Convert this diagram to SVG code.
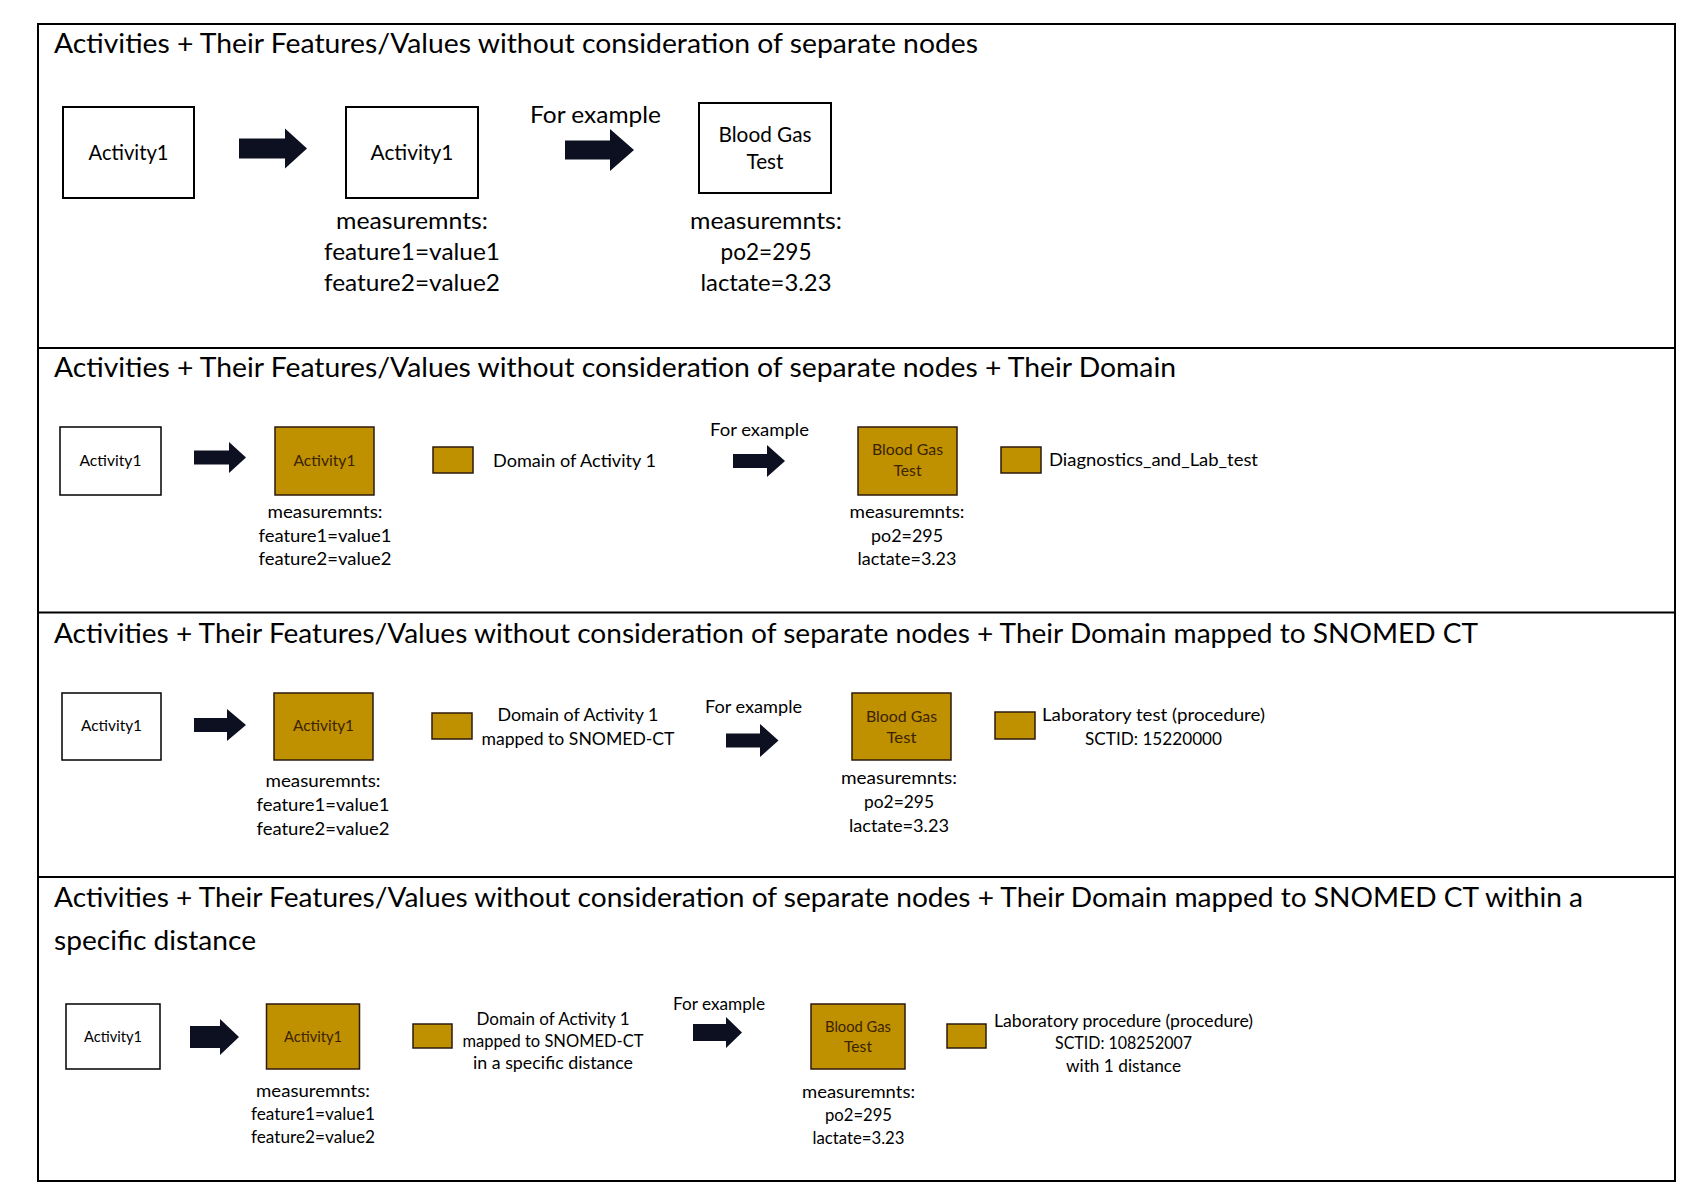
<svg xmlns="http://www.w3.org/2000/svg" width="1700" height="1200" viewBox="0 0 1700 1200">
<style>
text{font-family:Lato,"Open Sans","Liberation Sans",sans-serif;fill:#000}
.t{font-size:26px}
.m1{font-size:24px;text-anchor:middle}
.n1{font-size:21px;text-anchor:middle}
.s{font-size:17px}
.sm{font-size:17px;text-anchor:middle}
.n{font-size:16px;text-anchor:middle}
.ng{font-size:16px;text-anchor:middle;fill:#3a2400}
.wb{fill:#fff;stroke:#000;stroke-width:2}
.wbs{fill:#fff;stroke:#000;stroke-width:1.5}
.gb{fill:#BF9000;stroke:#2e1a0c;stroke-width:1.5}
.frame{fill:none;stroke:#000;stroke-width:2}
.arr{fill:#0c1020;stroke:none}
</style>
<rect class="frame" x="38" y="24" width="1637" height="1157"/>
<g id="dividers">
<line x1="38" y1="348" x2="1675" y2="348" stroke="#000" stroke-width="2"/>
<line x1="38" y1="612.5" x2="1675" y2="612.5" stroke="#000" stroke-width="2"/>
<line x1="38" y1="877" x2="1675" y2="877" stroke="#000" stroke-width="2"/>
</g>
<g id="titles">
<text class="t" x="54" y="53" textLength="924" lengthAdjust="spacingAndGlyphs">Activities + Their Features/Values without consideration of separate nodes</text>
<text class="t" x="54" y="377" textLength="1122" lengthAdjust="spacingAndGlyphs">Activities + Their Features/Values without consideration of separate nodes + Their Domain</text>
<text class="t" x="54" y="643" textLength="1424" lengthAdjust="spacingAndGlyphs">Activities + Their Features/Values without consideration of separate nodes + Their Domain mapped to SNOMED CT</text>
<text class="t" x="54" y="907" textLength="1529" lengthAdjust="spacingAndGlyphs">Activities + Their Features/Values without consideration of separate nodes + Their Domain mapped to SNOMED CT within a</text>
<text class="t" x="54" y="950" textLength="202" lengthAdjust="spacingAndGlyphs">specific distance</text>
</g>
<g id="connectors">
<path class="arr" d="M239,138.5 H285 V128.5 L307,148.5 L285,168.5 V158.5 H239 Z"/>
<path class="arr" d="M565,140.5 H610 V129 L634,150 L610,171 V159.5 H565 Z"/>
<path class="arr" d="M194,450.5 H229 V442 L246,457.5 L229,473 V464.5 H194 Z"/>
<path class="arr" d="M733,454 H767 V445 L785,461 L767,477 V468 H733 Z"/>
<path class="arr" d="M194,718 H227 V709 L246,725 L227,741 V732 H194 Z"/>
<path class="arr" d="M726,733.5 H760 V724 L778.5,740.5 L760,757 V747.5 H726 Z"/>
<path class="arr" d="M190,1026 H220 V1019 L239,1037 L220,1055 V1048 H190 Z"/>
<path class="arr" d="M693,1024 H726 V1017 L742,1032.5 L726,1048 V1041 H693 Z"/>
</g>
<g id="s1-activity">
<rect class="wb" x="63" y="107" width="131" height="91"/>
<text class="n1" x="128.5" y="160" textLength="80" lengthAdjust="spacingAndGlyphs">Activity1</text>
</g>
<g id="s1-activity-features">
<rect class="wb" x="346" y="107" width="132" height="91"/>
<text class="n1" x="412" y="160" textLength="83" lengthAdjust="spacingAndGlyphs">Activity1</text>
<text class="m1" x="412" y="229" textLength="152" lengthAdjust="spacingAndGlyphs">measuremnts:</text>
<text class="m1" x="412" y="260" textLength="176" lengthAdjust="spacingAndGlyphs">feature1=value1</text>
<text class="m1" x="412" y="291" textLength="176" lengthAdjust="spacingAndGlyphs">feature2=value2</text>
</g>
<text class="m1" x="595.5" y="123" textLength="131" lengthAdjust="spacingAndGlyphs">For example</text>
<g id="s1-bloodgas">
<rect class="wb" x="699" y="103" width="132" height="90"/>
<text class="n1" x="765" y="142" textLength="93" lengthAdjust="spacingAndGlyphs">Blood Gas</text>
<text class="n1" x="765" y="169" textLength="37" lengthAdjust="spacingAndGlyphs">Test</text>
<text class="m1" x="766" y="229" textLength="152" lengthAdjust="spacingAndGlyphs">measuremnts:</text>
<text class="m1" x="766" y="260" textLength="91" lengthAdjust="spacingAndGlyphs">po2=295</text>
<text class="m1" x="766" y="291" textLength="131" lengthAdjust="spacingAndGlyphs">lactate=3.23</text>
</g>
<g id="s2-activity">
<rect class="wbs" x="60" y="427" width="101" height="68"/>
<text class="n" x="110.5" y="466" textLength="62" lengthAdjust="spacingAndGlyphs">Activity1</text>
</g>
<g id="s2-activity-domain">
<rect class="gb" x="275" y="427" width="99" height="68"/>
<text class="ng" x="324.5" y="466" textLength="62" lengthAdjust="spacingAndGlyphs">Activity1</text>
<text class="sm" x="325" y="518" textLength="115" lengthAdjust="spacingAndGlyphs">measuremnts:</text>
<text class="sm" x="325" y="542" textLength="133" lengthAdjust="spacingAndGlyphs">feature1=value1</text>
<text class="sm" x="325" y="565" textLength="133" lengthAdjust="spacingAndGlyphs">feature2=value2</text>
</g>
<g id="s2-legend1">
<rect class="gb" x="433" y="447" width="40" height="26"/>
<text class="s" x="493" y="467" textLength="163" lengthAdjust="spacingAndGlyphs">Domain of Activity 1</text>
</g>
<text class="sm" x="759.5" y="436" textLength="99" lengthAdjust="spacingAndGlyphs">For example</text>
<g id="s2-bloodgas">
<rect class="gb" x="858" y="427" width="99" height="68"/>
<text class="ng" x="907.5" y="455" textLength="71" lengthAdjust="spacingAndGlyphs">Blood Gas</text>
<text class="ng" x="907.5" y="476" textLength="28" lengthAdjust="spacingAndGlyphs">Test</text>
<text class="sm" x="907" y="518" textLength="115" lengthAdjust="spacingAndGlyphs">measuremnts:</text>
<text class="sm" x="907" y="542" textLength="72" lengthAdjust="spacingAndGlyphs">po2=295</text>
<text class="sm" x="907" y="565" textLength="99" lengthAdjust="spacingAndGlyphs">lactate=3.23</text>
</g>
<g id="s2-legend2">
<rect class="gb" x="1001" y="447" width="40" height="26"/>
<text class="s" x="1049" y="466" textLength="209" lengthAdjust="spacingAndGlyphs">Diagnostics_and_Lab_test</text>
</g>
<g id="s3-activity">
<rect class="wbs" x="62" y="693" width="99" height="67"/>
<text class="n" x="111.5" y="731" textLength="61" lengthAdjust="spacingAndGlyphs">Activity1</text>
</g>
<g id="s3-activity-domain">
<rect class="gb" x="274" y="693" width="99" height="67"/>
<text class="ng" x="323.5" y="731" textLength="61" lengthAdjust="spacingAndGlyphs">Activity1</text>
<text class="sm" x="323" y="787" textLength="115" lengthAdjust="spacingAndGlyphs">measuremnts:</text>
<text class="sm" x="323" y="811" textLength="133" lengthAdjust="spacingAndGlyphs">feature1=value1</text>
<text class="sm" x="323" y="835" textLength="133" lengthAdjust="spacingAndGlyphs">feature2=value2</text>
</g>
<g id="s3-legend1">
<rect class="gb" x="432" y="713" width="40" height="26"/>
<text class="sm" x="578" y="721" textLength="161" lengthAdjust="spacingAndGlyphs">Domain of Activity 1</text>
<text class="sm" x="578" y="745" textLength="193" lengthAdjust="spacingAndGlyphs">mapped to SNOMED-CT</text>
</g>
<text class="sm" x="753.5" y="713" textLength="97" lengthAdjust="spacingAndGlyphs">For example</text>
<g id="s3-bloodgas">
<rect class="gb" x="852" y="693" width="99" height="67"/>
<text class="ng" x="901.5" y="722" textLength="71" lengthAdjust="spacingAndGlyphs">Blood Gas</text>
<text class="ng" x="901.5" y="743" textLength="30" lengthAdjust="spacingAndGlyphs">Test</text>
<text class="sm" x="899" y="784" textLength="116" lengthAdjust="spacingAndGlyphs">measuremnts:</text>
<text class="sm" x="899" y="808" textLength="70" lengthAdjust="spacingAndGlyphs">po2=295</text>
<text class="sm" x="899" y="832" textLength="100" lengthAdjust="spacingAndGlyphs">lactate=3.23</text>
</g>
<g id="s3-legend2">
<rect class="gb" x="995" y="712" width="40" height="27"/>
<text class="sm" x="1153.5" y="721" textLength="223" lengthAdjust="spacingAndGlyphs">Laboratory test (procedure)</text>
<text class="sm" x="1153.5" y="745" textLength="137" lengthAdjust="spacingAndGlyphs">SCTID: 15220000</text>
</g>
<g id="s4-activity">
<rect class="wbs" x="66" y="1004" width="94" height="65"/>
<text class="n" x="113" y="1042" textLength="58" lengthAdjust="spacingAndGlyphs">Activity1</text>
</g>
<g id="s4-activity-domain">
<rect class="gb" x="266.5" y="1004" width="93" height="65"/>
<text class="ng" x="313" y="1042" textLength="58" lengthAdjust="spacingAndGlyphs">Activity1</text>
<text class="sm" x="313" y="1097" textLength="114" lengthAdjust="spacingAndGlyphs">measuremnts:</text>
<text class="sm" x="313" y="1120" textLength="124" lengthAdjust="spacingAndGlyphs">feature1=value1</text>
<text class="sm" x="313" y="1143" textLength="124" lengthAdjust="spacingAndGlyphs">feature2=value2</text>
</g>
<g id="s4-legend1">
<rect class="gb" x="413" y="1024" width="39" height="24"/>
<text class="sm" x="553" y="1025" textLength="153" lengthAdjust="spacingAndGlyphs">Domain of Activity 1</text>
<text class="sm" x="553" y="1047" textLength="181" lengthAdjust="spacingAndGlyphs">mapped to SNOMED-CT</text>
<text class="sm" x="553" y="1069" textLength="160" lengthAdjust="spacingAndGlyphs">in a specific distance</text>
</g>
<text class="sm" x="719" y="1010" textLength="92" lengthAdjust="spacingAndGlyphs">For example</text>
<g id="s4-bloodgas">
<rect class="gb" x="811" y="1004" width="94" height="65"/>
<text class="ng" x="858" y="1032" textLength="66" lengthAdjust="spacingAndGlyphs">Blood Gas</text>
<text class="ng" x="858" y="1052" textLength="28" lengthAdjust="spacingAndGlyphs">Test</text>
<text class="sm" x="858.5" y="1098" textLength="113" lengthAdjust="spacingAndGlyphs">measuremnts:</text>
<text class="sm" x="858.5" y="1121" textLength="67" lengthAdjust="spacingAndGlyphs">po2=295</text>
<text class="sm" x="858.5" y="1144" textLength="92" lengthAdjust="spacingAndGlyphs">lactate=3.23</text>
</g>
<g id="s4-legend2">
<rect class="gb" x="947" y="1024" width="39" height="24"/>
<text class="sm" x="1123.5" y="1027" textLength="259" lengthAdjust="spacingAndGlyphs">Laboratory procedure (procedure)</text>
<text class="sm" x="1123.5" y="1049" textLength="137" lengthAdjust="spacingAndGlyphs">SCTID: 108252007</text>
<text class="sm" x="1123.5" y="1072" textLength="115" lengthAdjust="spacingAndGlyphs">with 1 distance</text>
</g>
</svg>
